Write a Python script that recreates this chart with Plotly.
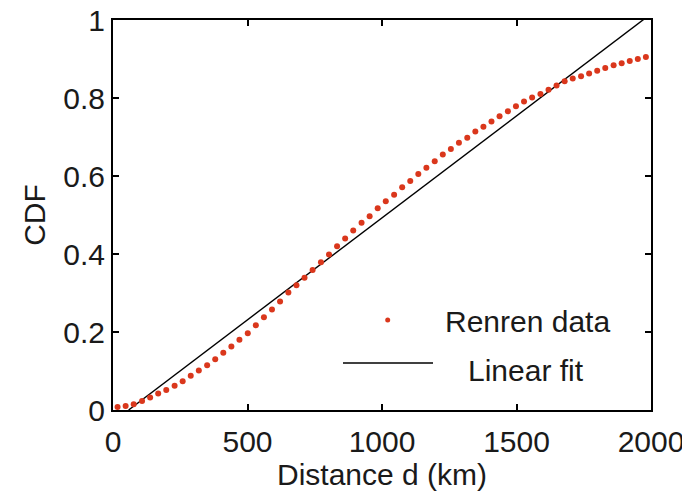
import plotly.graph_objects as go

# ---- data ----
distance_km = [17, 47, 77, 108, 138, 168, 198, 229, 259, 289, 319, 350, 380, 410, 440, 470,
               501, 531, 561, 591, 621, 652, 682, 712, 742, 773, 803, 833, 863, 893, 924, 954,
               984, 1014, 1045, 1075, 1105, 1135, 1165, 1196, 1226, 1256, 1286, 1317, 1347, 1377,
               1407, 1437, 1468, 1498, 1528, 1558, 1589, 1619, 1649, 1679, 1709, 1740, 1770, 1800,
               1830, 1861, 1891, 1921, 1951, 1981]
cdf = [0.008, 0.010, 0.015, 0.023, 0.032, 0.042, 0.051, 0.062, 0.074, 0.088, 0.101, 0.115,
       0.130, 0.147, 0.163, 0.180, 0.197, 0.217, 0.238, 0.258, 0.278, 0.301, 0.320, 0.339,
       0.359, 0.379, 0.399, 0.420, 0.440, 0.460, 0.480, 0.497, 0.517, 0.535, 0.552, 0.571,
       0.587, 0.605, 0.621, 0.638, 0.655, 0.669, 0.685, 0.698, 0.714, 0.726, 0.740, 0.753,
       0.766, 0.779, 0.791, 0.801, 0.810, 0.821, 0.832, 0.843, 0.850, 0.856, 0.863, 0.870,
       0.877, 0.884, 0.889, 0.895, 0.900, 0.905]

fit_x = [58, 2000]
fit_intercept_km = 58
fit_span_km = 1912
fit_y = [(x - fit_intercept_km) / fit_span_km for x in fit_x]

x_ticks = [0, 500, 1000, 1500, 2000]
x_tick_labels = ["0", "500", "1000", "1500", "2000"]
y_ticks = [0, 0.2, 0.4, 0.6, 0.8, 1]
y_tick_labels = ["0", "0.2", "0.4", "0.6", "0.8", "1"]

RED = "rgb(218,55,28)"
FONT = "Liberation Sans, Arial, sans-serif"
TXT = "#1a1a1a"

fig = go.Figure()
fig.add_trace(go.Scatter(x=fit_x, y=fit_y, mode="lines",
                         line=dict(color="black", width=1.4),
                         name="Linear fit", showlegend=False))
fig.add_trace(go.Scatter(x=distance_km, y=cdf, mode="markers",
                         marker=dict(color=RED, size=6, line=dict(width=0)),
                         name="Renren data", showlegend=False, cliponaxis=False))

W, H = 682, 491
L, R, T, B = 113, 31, 20, 81
pw, ph = W - L - R, H - T - B

def px(xp):
    return (xp - L) / pw

def py(yp):
    return (H - B - yp) / ph

# manual legend (MATLAB style)
fig.add_shape(type="line", xref="paper", yref="paper",
              x0=px(343), x1=px(433), y0=py(363), y1=py(363),
              line=dict(color="black", width=1.5))
fig.add_shape(type="circle", xref="paper", yref="paper",
              x0=px(385.2), x1=px(390.2), y0=py(317.5), y1=py(322.5),
              fillcolor=RED, line=dict(width=0))
fig.add_annotation(text="Renren data", xref="paper", yref="paper",
                   x=px(443), y=py(321), xanchor="left", yanchor="middle",
                   showarrow=False, font=dict(family=FONT, size=30, color=TXT))
fig.add_annotation(text="Linear fit", xref="paper", yref="paper",
                   x=px(466), y=py(370), xanchor="left", yanchor="middle",
                   showarrow=False, font=dict(family=FONT, size=30, color=TXT))

axis_common = dict(showline=True, linecolor="black", linewidth=2, mirror="ticks",
                   ticks="inside", ticklen=6, tickwidth=1.5, tickcolor="black",
                   showgrid=False, zeroline=False, ticklabeloverflow="allow",
                   tickfont=dict(family=FONT, size=30, color=TXT))

fig.update_layout(
    width=W, height=H,
    margin=dict(l=L, r=R, t=T, b=B, autoexpand=False),
    paper_bgcolor="white", plot_bgcolor="white",
    showlegend=False,
    xaxis=dict(range=[0, 2000], tickvals=x_ticks, ticktext=x_tick_labels,
               ticklabelstandoff=4,
               title=dict(text="Distance d (km)", standoff=8,
                          font=dict(family=FONT, size=30, color=TXT)),
               automargin=False, **axis_common),
    yaxis=dict(range=[0, 1], tickvals=y_ticks, ticktext=y_tick_labels,
               title=dict(text="CDF", standoff=9,
                          font=dict(family=FONT, size=30, color=TXT)),
               automargin=False, **axis_common),
)

fig.write_html("out.html", config={"displayModeBar": False},
               post_script="document.body.style.margin='0';")
